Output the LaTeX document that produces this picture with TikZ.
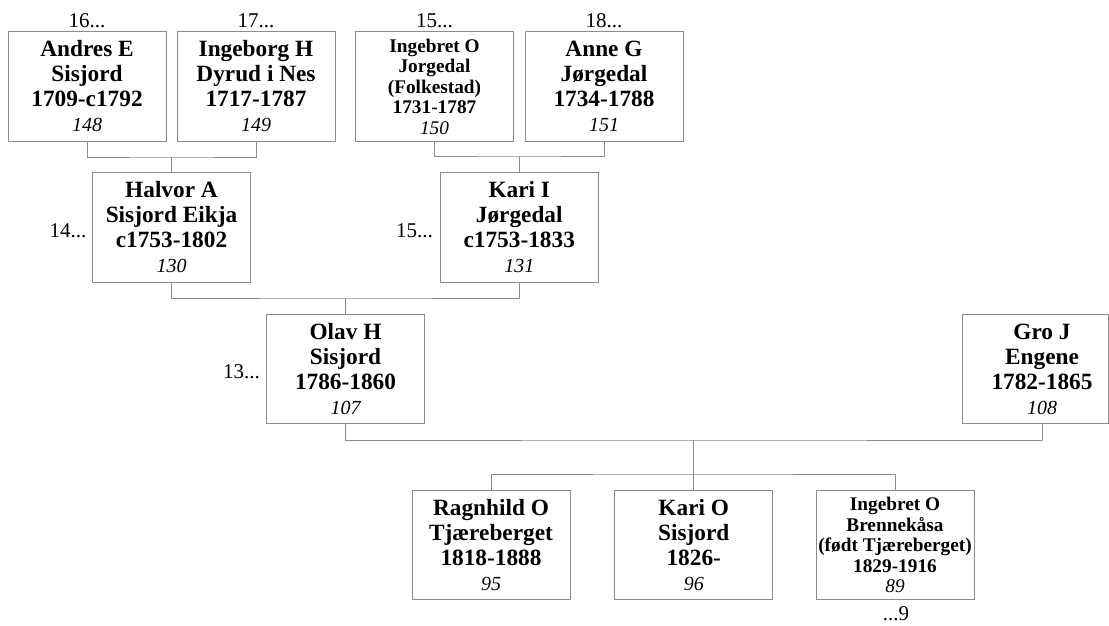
\documentclass[tikz,border=0pt]{standalone}
\usepackage{fontspec}
\setmainfont{Liberation Serif}
\definecolor{linegray}{RGB}{140,140,140}
\newcommand{\pnum}[1]{{\mdseries\itshape\fontsize{20pt}{25pt}\selectfont #1}}
\newcommand{\snum}[1]{{\mdseries\itshape\fontsize{19.3pt}{20.5pt}\selectfont #1}}
\begin{document}
\begin{tikzpicture}[x=1pt,y=-1pt,
  pbox/.style={draw=linegray, line width=1pt, minimum width=158pt, minimum height=109.5pt,
    inner sep=0pt, align=center, font=\bfseries\fontsize{23.3pt}{25pt}\selectfont},
  sbox/.style={pbox, font=\bfseries\fontsize{19.3pt}{20.5pt}\selectfont},
  link/.style={draw=linegray, line width=1pt},
  gen/.style={font=\fontsize{21pt}{24pt}\selectfont, inner sep=0pt}]
\useasboundingbox (0,0) rectangle (1109,625);

% persons
\node[pbox] (andres) at (87,86.5) {Andres E\\Sisjord\\1709-c1792\\\pnum{148}};
\node[pbox] (ingeborg) at (256,86.5) {Ingeborg H\\Dyrud i Nes\\1717-1787\\\pnum{149}};
\node[sbox] (ingebretj) at (434.5,86.5) {Ingebret O\\Jorgedal\\(Folkestad)\\1731-1787\\\snum{150}};
\node[pbox] (anne) at (604,86.5) {Anne G\\Jørgedal\\1734-1788\\\pnum{151}};
\node[pbox] (halvor) at (171.5,227.5) {Halvor A\\Sisjord Eikja\\c1753-1802\\\pnum{130}};
\node[pbox] (karii) at (519.25,227.5) {Kari I\\Jørgedal\\c1753-1833\\\pnum{131}};
\node[pbox] (olav) at (345.5,369) {Olav H\\Sisjord\\1786-1860\\\pnum{107}};
\node[pbox, minimum width=146pt] (gro) at (1035,369) {\hspace*{14pt}Gro J\\\hspace*{14pt}Engene\\\hspace*{14pt}1782-1865\\\hspace*{14pt}\pnum{108}};
\node[pbox] (ragnhild) at (491,545) {Ragnhild O\\Tjæreberget\\1818-1888\\\pnum{95}};
\node[pbox] (kario) at (693.75,545) {Kari O\\Sisjord\\1826-\\\pnum{96}};
\node[sbox] (brenne) at (895,545) {Ingebret O\\Brennekåsa\\(født Tjæreberget)\\1829-1916\\\snum{89}};

% generation labels
\node[gen, anchor=base] (g16) at (87,27) {16...};
\node[gen, anchor=base] (g17) at (256,27) {17...};
\node[gen, anchor=base] (g15a) at (434.5,27) {15...};
\node[gen, anchor=base] (g18) at (604,27) {18...};
\node[gen, anchor=base east] (g14) at (86.5,237) {14...};
\node[gen, anchor=base east] (g15b) at (433,237) {15...};
\node[gen, anchor=base east] (g13) at (260,378.5) {13...};
\node[gen, anchor=base] (g9) at (896,620) {...9};

% connectors
\coordinate (m1) at (171.5,157);
\draw[link] (andres.south) |- (m1) -| (ingeborg.south);
\draw[link] (m1) -- (halvor.north);
\coordinate (m2) at (519.25,156);
\draw[link] (ingebretj.south) |- (m2) -| (anne.south);
\draw[link] (m2) -- (karii.north);
\coordinate (m3) at (345.5,298);
\draw[link] (halvor.south) |- (m3) -| (karii.south);
\draw[link] (m3) -- (olav.north);
\coordinate (m4) at (693.75,440);
\draw[link] (olav.south) |- (m4) -| ([xshift=7pt]gro.south);
\draw[link] (m4) -- (kario.north);
\coordinate (m5) at (693.75,474);
\draw[link] (ragnhild.north) |- (m5) -| (brenne.north);
\end{tikzpicture}
\end{document}
